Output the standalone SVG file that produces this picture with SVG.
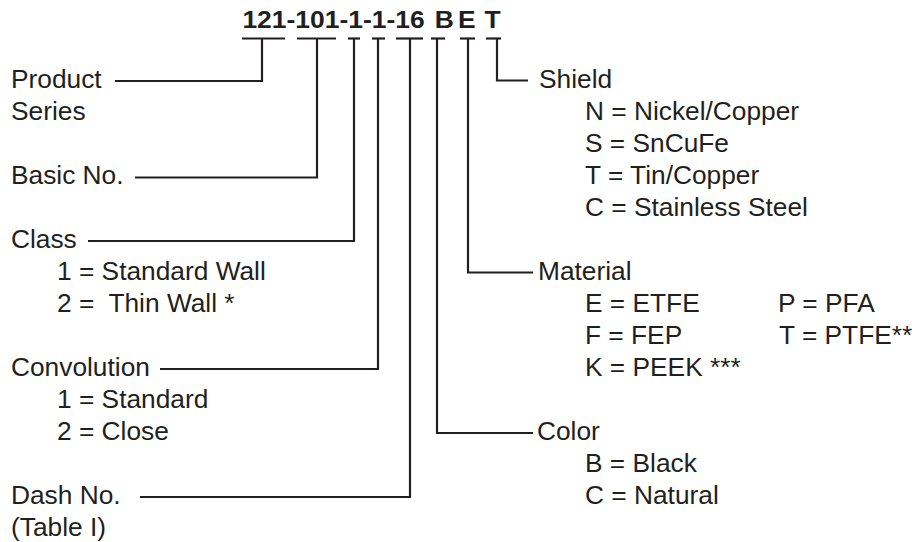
<svg xmlns="http://www.w3.org/2000/svg" width="916" height="542" viewBox="0 0 916 542">
<style>
text{font-family:"Liberation Sans",Arial,Helvetica,sans-serif;font-size:26.3px;fill:#231f20}
.t{font-weight:bold;font-size:23px}
.c line,.c polyline{stroke:#231f20;stroke-width:2.2;fill:none}
</style>
<rect width="916" height="542" fill="#fff"/>
<g id="title" transform="translate(0,28.3) scale(1.15,1)">
<text class="t" x="210.8" y="0">121-101-1-1-16</text>
<text class="t" x="378.1" y="0">B</text>
<text class="t" x="398.3" y="0">E</text>
<text class="t" x="421.3" y="0">T</text>
</g>
<g id="connectors" class="c">
<line x1="242" y1="38.5" x2="285" y2="38.5"/>
<line x1="297" y1="38.5" x2="336" y2="38.5"/>
<line x1="348" y1="38.5" x2="360" y2="38.5"/>
<line x1="372" y1="38.5" x2="385" y2="38.5"/>
<line x1="396" y1="38.5" x2="423" y2="38.5"/>
<line x1="431" y1="38.5" x2="445" y2="38.5"/>
<line x1="460" y1="38.5" x2="475" y2="38.5"/>
<line x1="486" y1="38.5" x2="501" y2="38.5"/>
<polyline points="115,81 262,81 262,38.5"/>
<polyline points="135,177.5 317,177.5 317,38.5"/>
<polyline points="88,241 354,241 354,38.5"/>
<polyline points="160,369 378,369 378,38.5"/>
<polyline points="140,497 410,497 410,38.5"/>
<polyline points="533,433 437,433 437,38.5"/>
<polyline points="533,272.5 468,272.5 468,38.5"/>
<polyline points="528,80.5 497,80.5 497,38.5"/>
</g>
<g id="product"><text x="11" y="88.3">Product</text><text x="11" y="120.3">Series</text></g>
<g id="basic"><text x="11" y="184.3">Basic No.</text></g>
<g id="class"><text x="11" y="248.3">Class</text><text x="57" y="280.3">1 = Standard Wall</text><text x="57" y="312.3" xml:space="preserve">2 =  Thin Wall *</text></g>
<g id="convolution"><text x="11" y="376.3">Convolution</text><text x="57" y="408.3">1 = Standard</text><text x="57" y="440.3">2 = Close</text></g>
<g id="dash"><text x="11" y="504.3">Dash No.</text><text x="11" y="536.3">(Table I)</text></g>
<g id="shield"><text x="539" y="88.3">Shield</text><text x="585" y="120.3">N = Nickel/Copper</text><text x="585" y="152.3">S = SnCuFe</text><text x="585" y="184.3">T = Tin/Copper</text><text x="585" y="216.3">C = Stainless Steel</text></g>
<g id="material"><text x="538" y="280.3">Material</text><text x="585" y="312.3">E = ETFE</text><text x="778" y="312.3">P = PFA</text><text x="585" y="344.3">F = FEP</text><text x="779" y="344.3">T = PTFE**</text><text x="585" y="376.3">K = PEEK ***</text></g>
<g id="color"><text x="537" y="440.3">Color</text><text x="585" y="472.3">B = Black</text><text x="585" y="504.3">C = Natural</text></g>
</svg>
